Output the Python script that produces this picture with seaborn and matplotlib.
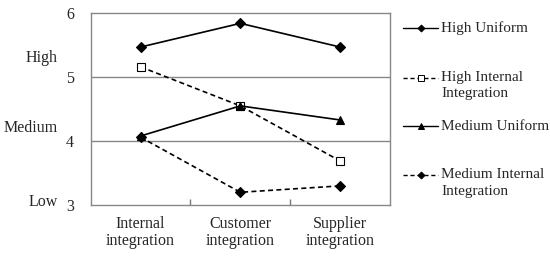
import numpy as np
import pandas as pd
import matplotlib.pyplot as plt
import seaborn as sns
from matplotlib.lines import Line2D

categories = ["Internal\nintegration", "Customer\nintegration", "Supplier\nintegration"]
series_names = ["High Uniform", "High Internal\nIntegration", "Medium Uniform", "Medium Internal\nIntegration"]
high_uniform = [5.47, 5.84, 5.47]
high_internal = [5.16, 4.55, 3.69]
medium_uniform = [4.08, 4.55, 4.33]
medium_internal = [4.06, 3.20, 3.30]
level_labels = ["High", "Medium", "Low"]
level_values = [5.3, 4.2, 3.05]

sns.set_theme(style="white")
plt.rcParams["font.family"] = ["Liberation Serif", "DejaVu Serif"]

rows = []
for name, vals in zip(series_names, [high_uniform, high_internal, medium_uniform, medium_internal]):
    for i, v in enumerate(vals):
        rows.append({"series": name, "pos": i, "value": v})
df = pd.DataFrame(rows)

styles = {
    series_names[0]: dict(ls="-", marker="D", mfc="black", ms=5),
    series_names[1]: dict(ls=(0, (3, 2)), marker="s", mfc="white", ms=6),
    series_names[2]: dict(ls="-", marker="^", mfc="black", ms=6),
    series_names[3]: dict(ls=(0, (3, 2)), marker="D", mfc="black", ms=5),
}

fig = plt.figure(figsize=(5.5, 2.57), dpi=100)
ax = fig.add_axes([0.165, 0.202, 0.544, 0.747])

for name in series_names:
    st = styles[name]
    sub = df[df["series"] == name]
    sns.lineplot(data=sub, x="pos", y="value", ax=ax, color="black", lw=1.2,
                 linestyle=st["ls"], marker=st["marker"], markersize=st["ms"],
                 markerfacecolor=st["mfc"], markeredgecolor="black", markeredgewidth=0.8)

ax.set_xlim(-0.5, 2.5)
ax.set_ylim(3, 6)
ax.set_yticks([3, 4, 5, 6])
ax.set_xticks(range(3))
ax.set_xticklabels(categories, fontsize=11.5, linespacing=1.1)
ax.set_xticks([0.5, 1.5], minor=True)
ax.tick_params(axis="x", which="major", length=0, pad=8)
ax.tick_params(axis="x", which="minor", direction="in", length=4, color="#777777", bottom=True)
ax.tick_params(axis="y", length=0, labelsize=11.5, pad=12)
ax.set_xlabel("")
ax.set_ylabel("")
for v in [4, 5]:
    ax.axhline(v, color="#888888", lw=1.0, zorder=0)
for s in ax.spines.values():
    s.set_color("#888888")
    s.set_linewidth(1.0)

for lab, val in zip(level_labels, level_values):
    ax.annotate(lab, xy=(0, val), xycoords=("axes fraction", "data"), xytext=(-33, 0),
                textcoords="offset pixels", ha="right", va="center", fontsize=11.5)

# legend drawn by hand so handles align with the first text line
legend_rows = [28, 78, 126, 175]
for name, py in zip(series_names, legend_rows):
    st = styles[name]
    y = 1 - py / 257
    fig.add_artist(Line2D([403 / 550, 438 / 550], [y, y], color="black", lw=1.0, linestyle=st["ls"]))
    fig.add_artist(Line2D([420.5 / 550], [y], color="black", marker=st["marker"], markersize=st["ms"] - 1.5,
                          markerfacecolor=st["mfc"], markeredgecolor="black", markeredgewidth=0.7))
    first, *rest = name.split("\n")
    fig.text(441 / 550, y, first, ha="left", va="center", fontsize=11)
    for k, line in enumerate(rest, start=1):
        fig.text(441 / 550, 1 - (py + 16 * k) / 257, line, ha="left", va="center", fontsize=11)

fig.savefig("out.png", dpi=100)
